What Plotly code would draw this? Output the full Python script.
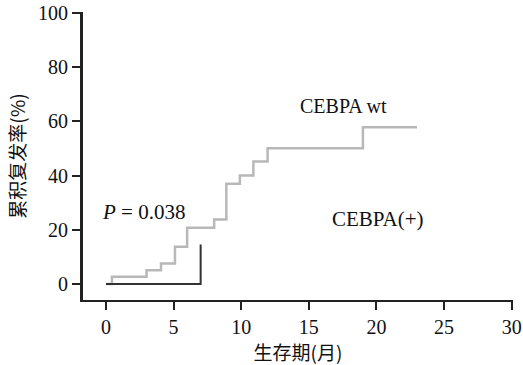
import plotly.graph_objects as go

# CEBPA wt (gray) cumulative relapse steps
wt_months = [0, 0.44, 3.0, 4.07, 5.1, 6.0, 8.0, 8.9, 9.9, 10.9, 11.95, 19.0, 23.0]
wt_rate = [0, 2.7, 5.1, 7.6, 13.7, 20.7, 23.8, 37.0, 40.0, 45.2, 50.1, 57.8, 57.8]

# CEBPA(+) (black)
pos_months = [0, 7.0]
pos_rate = [0, 14.6]

x_ticks = [0, 5, 10, 15, 20, 25, 30]
y_ticks = [0, 20, 40, 60, 80, 100]

SERIF = "Liberation Serif, Times New Roman, serif"
CJK = "Noto Sans CJK SC, Liberation Serif, serif"

fig = go.Figure()
fig.add_trace(go.Scatter(x=wt_months, y=wt_rate, mode="lines", line_shape="hv",
                         line=dict(color="#b8b8b8", width=2.5), showlegend=False,
                         cliponaxis=False))
fig.add_trace(go.Scatter(x=pos_months, y=pos_rate, mode="lines", line_shape="hv",
                         line=dict(color="#333333", width=2), showlegend=False,
                         cliponaxis=False))

fig.add_annotation(x=17.6, y=65.8, text="CEBPA wt", showarrow=False,
                   font=dict(family=SERIF, size=20, color="#111"))
fig.add_annotation(x=20.1, y=23.9, text="CEBPA(+)", showarrow=False,
                   font=dict(family=SERIF, size=21, color="#111"))
fig.add_annotation(x=2.8, y=26.6, text="<i>P</i> = 0.038", showarrow=False,
                   font=dict(family=SERIF, size=21, color="#111"))

fig.update_layout(
    width=523, height=365,
    margin=dict(l=83, r=10, t=12, b=65),
    paper_bgcolor="white", plot_bgcolor="white",
    xaxis=dict(range=[-1.7, 30.1], tickvals=x_ticks, ticks="outside", ticklen=8,
               tickwidth=2, tickcolor="#222", showline=True, linecolor="#222", linewidth=2,
               showgrid=False, zeroline=False, automargin=False,
               tickfont=dict(family=SERIF, size=20, color="#111"),
               title=dict(text="生存期(月)", font=dict(family=CJK, size=19, color="#111"), standoff=2)),
    yaxis=dict(range=[-5.9, 100.3], tickvals=y_ticks, ticks="outside", ticklen=8,
               tickwidth=2, tickcolor="#222", showline=True, linecolor="#222", linewidth=3,
               showgrid=False, zeroline=False, automargin=False,
               tickfont=dict(family=SERIF, size=20, color="#111"),
               title=dict(text="累积复发率(%)", font=dict(family=CJK, size=19, color="#111"), standoff=8)),
)

fig.write_html("out.html", config={"displayModeBar": False},
               post_script="document.body.style.margin='0';")
